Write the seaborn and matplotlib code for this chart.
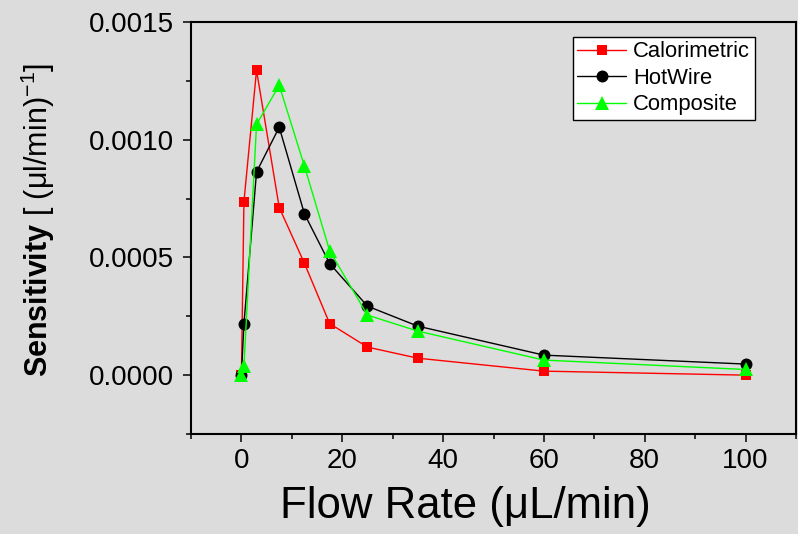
import numpy as np
import pandas as pd
import matplotlib
matplotlib.use("Agg")
import matplotlib.pyplot as plt
import seaborn as sns
from matplotlib.ticker import MultipleLocator, FormatStrFormatter

flow = [0, 0.5, 3, 7.5, 12.5, 17.5, 25, 35, 60, 100]
calorimetric = [0.0, 0.000737, 0.001295, 0.000712, 0.000475, 0.000219, 0.000119, 0.000072, 0.000017, 0.0]
hotwire = [0.0, 0.000219, 0.000863, 0.001053, 0.000685, 0.000474, 0.000293, 0.000208, 0.000085, 0.000047]
composite = [0.0, 0.000038, 0.001065, 0.001231, 0.000888, 0.000528, 0.000255, 0.000187, 0.000064, 0.000024]
series_names = ["Calorimetric", "HotWire", "Composite"]

bg = "#dcdcdc"
sns.set_style("ticks")
plt.rcParams["font.family"] = ["Liberation Sans", "DejaVu Sans"]
plt.rcParams["mathtext.fontset"] = "custom"
plt.rcParams["mathtext.rm"] = "Liberation Sans"
plt.rcParams["mathtext.bf"] = "Liberation Sans:bold"
plt.rcParams["mathtext.it"] = "Liberation Sans:italic"
for k in ["text.color", "axes.labelcolor", "xtick.color", "ytick.color", "axes.edgecolor"]:
    plt.rcParams[k] = "black"

fig = plt.figure(figsize=(7.98, 5.34), dpi=100, facecolor=bg)
ax = fig.add_axes([191 / 798, 100 / 534, 605 / 798, 412 / 534])
ax.set_facecolor(bg)

df = pd.DataFrame({"flow": flow, "Calorimetric": calorimetric,
                   "HotWire": hotwire, "Composite": composite})

styles = {
    "Calorimetric": dict(color="#ff0000", marker="s", markersize=7.2),
    "HotWire": dict(color="#000000", marker="o", markersize=8.6),
    "Composite": dict(color="#00ff00", marker="^", markersize=9.6),
}
for name in series_names:
    st = styles[name]
    sns.lineplot(data=df, x="flow", y=name, ax=ax, label=name, color=st["color"],
                 marker=st["marker"], markersize=st["markersize"],
                 markeredgewidth=0, linewidth=1.0, sort=False)

ax.set_xlim(-10, 110)
ax.set_ylim(-0.00025, 0.0015)
ax.xaxis.set_major_locator(MultipleLocator(20))
ax.xaxis.set_minor_locator(MultipleLocator(10))
ax.yaxis.set_major_locator(MultipleLocator(0.0005))
ax.yaxis.set_minor_locator(MultipleLocator(0.00025))
ax.yaxis.set_major_formatter(FormatStrFormatter("%.4f"))

for sp in ax.spines.values():
    sp.set_visible(True)
    sp.set_linewidth(1.5)
    sp.set_color("black")

ax.tick_params(axis="both", which="major", direction="out", length=6, width=1.1,
               labelsize=20, colors="black")
ax.tick_params(axis="both", which="minor", direction="out", length=3.5, width=1.1,
               colors="black")
ax.tick_params(axis="x", which="major", pad=4)
ax.tick_params(axis="y", which="major", pad=6)

ax.set_xlabel("Flow Rate (μL/min)", fontsize=31.5, color="black")
ax.xaxis.set_label_coords(0.453, -0.126)
ax.set_ylabel(r"$\mathbf{Sensitivity}$ [ (μl/min)$^{\mathregular{-1}}$]", fontsize=22,
              color="black")
ax.yaxis.set_label_coords(-0.222, 0.52)

leg = ax.legend(loc="upper left", bbox_to_anchor=(573 / 798, 1 - 37 / 534),
                bbox_transform=fig.transFigure, fontsize=15.8, frameon=True,
                fancybox=False, framealpha=1, edgecolor="black", facecolor="white",
                borderpad=0.2, labelspacing=0.25, handlelength=2.2,
                handletextpad=0.35, borderaxespad=0)
leg.get_frame().set_linewidth(1.0)
for t in leg.get_texts():
    t.set_color("black")

fig.savefig("out.png", dpi=100, facecolor=bg)
